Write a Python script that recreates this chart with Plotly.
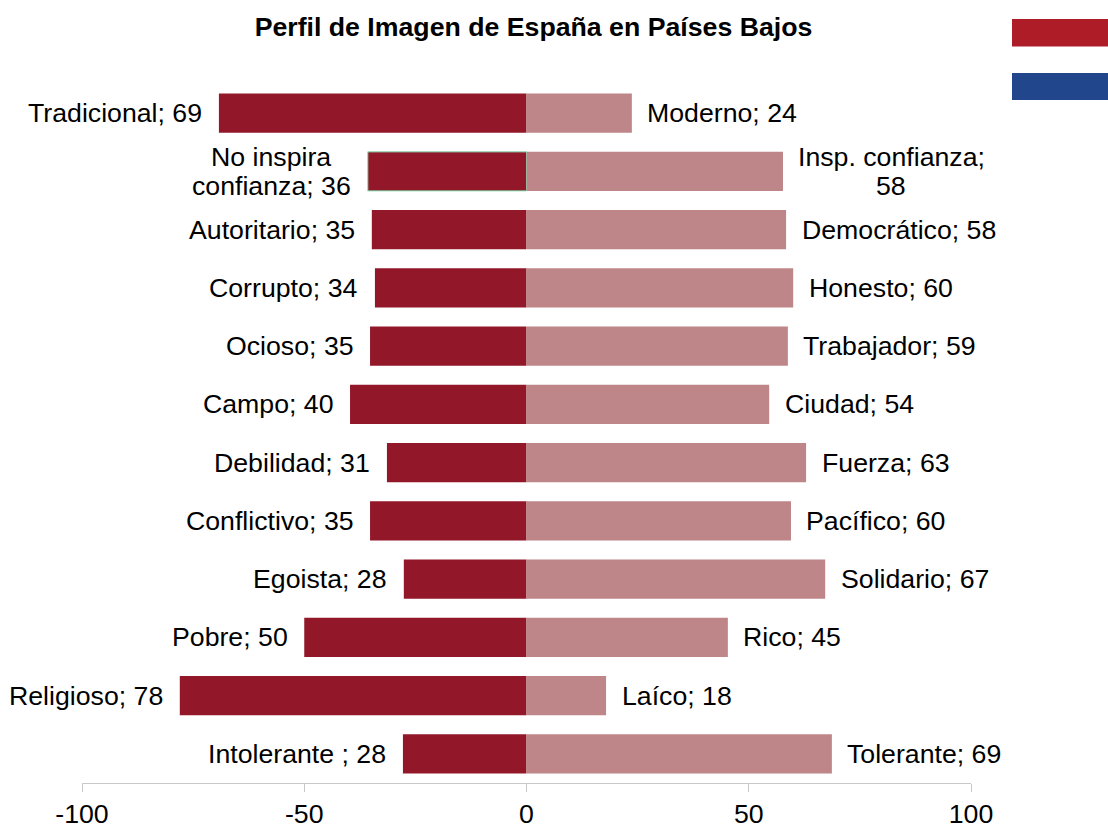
import plotly.graph_objects as go

title = "Perfil de Imagen de España en Países Bajos"
left_names = ["Tradicional; 69", "No inspira<br>confianza; 36", "Autoritario; 35", "Corrupto; 34", "Ocioso; 35", "Campo; 40",
              "Debilidad; 31", "Conflictivo; 35", "Egoista; 28", "Pobre; 50", "Religioso; 78", "Intolerante ; 28"]
right_names = ["Moderno; 24", "Insp. confianza;<br>58", "Democrático; 58", "Honesto; 60", "Trabajador; 59", "Ciudad; 54",
               "Fuerza; 63", "Pacífico; 60", "Solidario; 67", "Rico; 45", "Laíco; 18", "Tolerante; 69"]
left_values = [69.2, 35.7, 34.8, 34.1, 35.2, 39.7, 31.4, 35.2, 27.6, 50.0, 78.0, 27.8]
right_values = [23.7, 57.7, 58.4, 60.0, 58.8, 54.6, 62.9, 59.5, 67.2, 45.3, 17.9, 68.7]
rows = list(range(len(left_names)))
ticks = [-100, -50, 0, 50, 100]
tick_labels = ["-100", "-50", "0", "50", "100"]

FONT = "Liberation Sans, Arial, sans-serif"
SIZE = 26.7
DARK, LIGHT = "#911729", "#BE8688"
GAP_LEFT = 16.5
GAP_RIGHT = 15.5
LINE_SHIFT = 14.5
# horizontal offset of the first/second line of wrapped labels, so both stay centred on each other
LEFT_WRAP = {0: 20, 1: 0}
RIGHT_WRAP = {0: 0, 1: 78}

edge_widths = [1 if r == 1 else 0 for r in rows]
edge_colors = ["#86E3B5" if r == 1 else DARK for r in rows]

fig = go.Figure()
fig.add_bar(y=rows, x=[-v for v in left_values], orientation="h",
            marker=dict(color=DARK, line=dict(width=edge_widths, color=edge_colors)), showlegend=False)
fig.add_bar(y=rows, x=right_values, orientation="h", marker=dict(color=LIGHT, line=dict(width=0)), showlegend=False)


def label(x, r, text, side, xshift, yshift=0):
    return dict(x=x, y=r, text=text, xref="x", yref="y", xanchor="right" if side < 0 else "left", yanchor="middle",
                xshift=xshift, yshift=yshift, showarrow=False, align="center", borderpad=0, borderwidth=0,
                font=dict(family=FONT, size=SIZE, color="#000"))


annotations = []
for side, gap, names, values, wrap in ((-1, GAP_LEFT, left_names, left_values, LEFT_WRAP),
                                       (1, GAP_RIGHT, right_names, right_values, RIGHT_WRAP)):
    for r, name, v in zip(rows, names, values):
        parts = name.split("<br>")
        if len(parts) == 1:
            annotations.append(label(side * v, r, name, side, side * gap))
        else:
            annotations.append(label(side * v, r, parts[0], side, side * (gap + wrap[0]), LINE_SHIFT))
            annotations.append(label(side * v, r, parts[1], side, side * (gap + wrap[1]), -LINE_SHIFT))

W, H = 1108, 828
L, R, T, B = 82, 137, 84, 45
pw, ph = W - L - R, H - T - B


def fx(px):
    return (px - L) / pw


def fy(py):
    return (H - B - py) / ph


shapes = [
    dict(type="rect", xref="paper", yref="paper", x0=fx(1012), x1=fx(1108), y0=fy(46.5), y1=fy(19), fillcolor="#AE1C28", line_width=0, layer="above"),
    dict(type="rect", xref="paper", yref="paper", x0=fx(1012), x1=fx(1108), y0=fy(100), y1=fy(73), fillcolor="#21468B", line_width=0, layer="above"),
]

fig.update_layout(
    width=W, height=H, barmode="relative", bargap=0.33, plot_bgcolor="white", paper_bgcolor="white",
    margin=dict(l=L, r=R, t=T, b=B, pad=0),
    title=dict(text=f"<b>{title}</b>", x=533.5 / W, xanchor="center", y=1 - 27 / H, yanchor="middle", font=dict(family=FONT, size=SIZE, color="#000")),
    font=dict(family=FONT, size=SIZE, color="#000"),
    annotations=annotations, shapes=shapes,
    xaxis=dict(range=[-100, 100], tickvals=ticks, ticktext=tick_labels, ticks="outside", ticklen=8, tickwidth=1, tickcolor="#C8C8C8",
               showline=True, linecolor="#C8C8C8", linewidth=1, showgrid=False, zeroline=False, automargin=False, ticklabelstandoff=-1,
               tickfont=dict(family=FONT, size=SIZE, color="#000")),
    yaxis=dict(range=[len(rows) - 0.5, -0.5], visible=False, showgrid=False, zeroline=False, automargin=False),
)
fig.write_html("out.html", config=dict(displayModeBar=False), post_script="document.body.style.margin='0';")
